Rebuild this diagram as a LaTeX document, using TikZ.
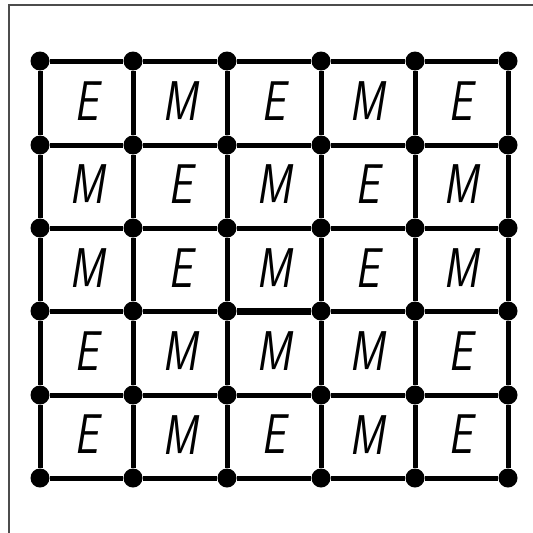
\documentclass[tikz,border=0pt]{standalone}
\begin{document}
\begin{tikzpicture}[x=1pt,y=-1pt,
  dot/.style={circle,fill=black,inner sep=0pt,minimum size=19pt},
  edge/.style={line width=5pt,black},
  thickedge/.style={line width=7pt,black},
  letter/.style={inner sep=0pt,xscale=0.76,font=\fontsize{56}{56}\selectfont\sffamily\slshape},
  frameline/.style={line width=1.5pt,black!70}]
\useasboundingbox (0,0) rectangle (533,533);
\coordinate (fa) at (9,533);
\coordinate (fb) at (9,5);
\coordinate (fc) at (533,5);
\draw[frameline] (fa) -- (fb) -- (fc);
% dots
\foreach \x [count=\i from 0] in {40,133,227,321,415,508}{
  \foreach \y [count=\j from 0] in {61,145,228,311,395,478}{
    \node[dot] (d-\i-\j) at (\x,\y) {};
  }
}
% edges
\foreach \i in {0,...,5}{
  \foreach \j [evaluate=\j as \k using int(\j+1)] in {0,...,4}{
    \draw[edge] (d-\i-\j) -- (d-\i-\k);
    \draw[edge] (d-\j-\i) -- (d-\k-\i);
  }
}
\draw[thickedge] (d-2-3) -- (d-3-3);
% letters
\foreach \t [count=\n from 0] in {E,M,E,M,E, M,E,M,E,M, M,E,M,E,M, E,M,M,M,E, E,M,E,M,E}{
  \pgfmathtruncatemacro{\c}{mod(\n,5)}
  \pgfmathtruncatemacro{\r}{div(\n,5)}
  \pgfmathsetmacro{\cx}{86.5+93.6*\c}
  \pgfmathsetmacro{\cy}{101+83.4*\r}
  \node[letter] (L-\c-\r) at (\cx,\cy) {\t};
}
\end{tikzpicture}
\end{document}
